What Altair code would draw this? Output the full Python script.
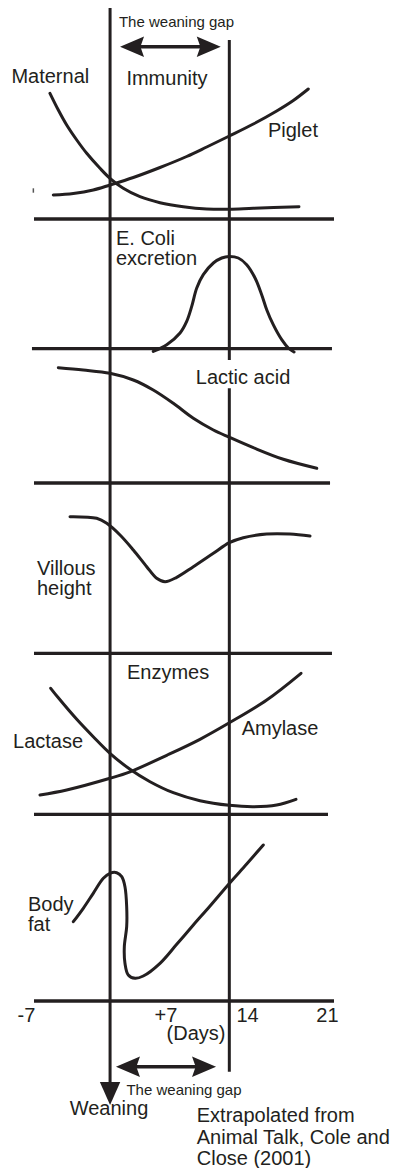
import altair as alt
import pandas as pd

# ------------------------------------------------------------------
# Data.
# x = days relative to weaning, level = height of a curve above the
# baseline of its own panel (arbitrary response units)
# ------------------------------------------------------------------
maternal_days = [-5.51, -4.73, -3.95, -3.01, -2.08, -0.84, 0.09, 1.33, 2.89, 4.76, 6.93, 9.12, 11.23, 13.47, 17.73]
maternal_level = [125.7, 109, 94, 79, 65.7, 50.7, 40.7, 30.7, 22.3, 16.3, 12.3, 10, 9.7, 10.7, 12.3]

piglet_days = [-5.2, -3.33, -1.47, 0.09, 2.27, 4.76, 7.25, 9.12, 11.23, 13.47, 15.65, 17.2, 18.6]
piglet_level = [24, 25.5, 29, 34, 41.5, 51.5, 62.5, 72, 83, 95, 108, 118.5, 130]

ecoli_days = [4.13, 5.39, 6.63, 7.25, 7.72, 8.19, 8.80, 9.74, 10.52, 11.2, 12.07, 12.85, 13.63, 14.25, 14.72, 15.33, 16.12, 16.74, 17.27]
ecoli_level = [-2.7, 4, 15.7, 27.3, 42.3, 60.7, 74, 85.7, 90.7, 92.3, 90.7, 84, 70.7, 54, 39, 24, 9, 0.7, -3.3]

lactic_days = [-4.73, -2.40, 0.09, 2.27, 4.13, 6.0, 7.87, 9.74, 11.23, 13.47, 16.27, 19.39]
lactic_level = [115.3, 113, 109.7, 103, 93, 79.7, 64.7, 53, 45.7, 35.3, 23.7, 14.7]

villous_days = [-3.64, -1.15, -0.21, 1.03, 2.27, 3.52, 4.45, 5.23, 6.32, 7.87, 9.74, 11.23, 12.53, 14.72, 16.89, 18.76]
villous_level = [136.6, 135, 130, 118.3, 103.3, 86.6, 75, 71.6, 76, 86.6, 100, 110.6, 115.6, 119.3, 119.3, 117.3]

lactase_days = [-5.44, -4.73, -3.01, -1.47, 0.09, 1.96, 3.83, 6.0, 8.49, 11.23, 13.47, 15.65, 17.45]
lactase_level = [126, 116.5, 95, 77.6, 61, 45, 32.6, 21.6, 13.6, 9, 7.6, 9.3, 15]

amylase_days = [-6.44, -3.95, 0.09, 1.96, 5.39, 8.49, 11.23, 14.72, 17.92]
amylase_level = [19.3, 24.3, 36, 42.5, 59, 75, 91.5, 114.3, 141]

bodyfat_days = [-3.33, -2.40, -1.47, -0.53, 0.09, 0.72, 1.19, 1.49, 1.65, 1.65, 1.43, 1.49, 1.80, 2.43,
                3.20, 4.76, 6.32, 7.87, 9.43, 11.29, 12.85, 14.40]
bodyfat_level = [79.3, 92.7, 107.7, 122.7, 127.7, 128.3, 124.3, 114.3, 94.3, 74.3, 54.3, 37.7, 26, 22.7,
                 25, 37.7, 56.7, 76, 95, 118.3, 137, 156]

tick_labels = ["-7", "+7", "14", "21"]

weaning_day = 0.1        # weaning
gap_end_day = 11.23      # end of the weaning gap

# ------------------------------------------------------------------
# Layout (vertical figure units, 0 = bottom of the figure)
# ------------------------------------------------------------------
INK = "#231f20"
FONT = "Liberation Sans, Arial, Helvetica, sans-serif"

panel_base = {"immunity": 949, "ecoli": 819.3, "lactic": 685,
              "villous": 514.7, "enzymes": 353.7, "bodyfat": 167}
panel_span = {"immunity": (-7, 21), "ecoli": (-7.19, 20.81), "lactic": (-7, 20.63),
              "villous": (-7, 20.81), "enzymes": (-7, 20.44), "bodyfat": (-7, 21)}

curves = [
    ("Maternal", "immunity", maternal_days, maternal_level),
    ("Piglet", "immunity", piglet_days, piglet_level),
    ("E. coli", "ecoli", ecoli_days, ecoli_level),
    ("Lactic acid", "lactic", lactic_days, lactic_level),
    ("Villous height", "villous", villous_days, villous_level),
    ("Lactase", "enzymes", lactase_days, lactase_level),
    ("Amylase", "enzymes", amylase_days, amylase_level),
    ("Body fat", "bodyfat", bodyfat_days, bodyfat_level),
]

rows = []
for name, panel, days, levels in curves:
    for i, (d, lv) in enumerate(zip(days, levels)):
        rows.append({"curve": name, "order": i, "day": d, "v": panel_base[panel] + lv})
curve_df = pd.DataFrame(rows)

base_df = pd.DataFrame([
    {"d1": panel_span[p][0], "d2": panel_span[p][1], "v": panel_base[p]} for p in panel_base
])

vert_df = pd.DataFrame([
    {"day": weaning_day, "v1": 1160.7, "v2": 70},
    {"day": gap_end_day, "v1": 1128, "v2": 808},
    {"day": gap_end_day, "v1": 779.7, "v2": 96.3},
])
tiny_df = pd.DataFrame([{"day": -7.06, "v1": 979.7, "v2": 975.3}])

arrow_df = pd.DataFrame([
    {"left": 1.03, "right": 10.43, "v": 1121.3},
    {"left": 0.65, "right": 9.99, "v": 101.3},
])
arrow_df["s1"] = arrow_df["left"] + 1.0
arrow_df["s2"] = arrow_df["right"] - 1.0
down_df = pd.DataFrame([{"day": weaning_day, "v": 63}])

center_labels = pd.DataFrame([
    {"t": "Maternal", "day": -5.48, "v": 1084.7},
    {"t": "Immunity", "day": 5.41, "v": 1083},
    {"t": "Piglet", "day": 17.17, "v": 1031},
    {"t": "Lactic acid", "day": 12.51, "v": 784},
    {"t": "Enzymes", "day": 5.51, "v": 489},
    {"t": "Lactase", "day": -5.69, "v": 420},
    {"t": "Amylase", "day": 15.96, "v": 433},
    {"t": "(Days)", "day": 8.12, "v": 128},
    {"t": "Weaning", "day": 0.0, "v": 53},
])
left_labels = pd.DataFrame([
    {"t": "E. Coli", "day": 0.65, "v": 923},
    {"t": "excretion", "day": 0.65, "v": 903},
    {"t": "Villous", "day": -6.72, "v": 593},
    {"t": "height", "day": -6.72, "v": 573},
    {"t": "Body", "day": -7.56, "v": 257},
    {"t": "fat", "day": -7.56, "v": 237},
    {"t": "Extrapolated from", "day": 8.19, "v": 45.7},
    {"t": "Animal Talk, Cole and", "day": 8.19, "v": 23.7},
    {"t": "Close (2001)", "day": 8.19, "v": 3},
])
tick_df = pd.DataFrame({"t": tick_labels, "day": [-7.70, 5.32, 12.93, 20.39], "v": [146.5] * 4})
small_labels = pd.DataFrame([
    {"t": "The weaning gap", "day": 6.30, "v": 1140.7},
    {"t": "The weaning gap", "day": 7.0, "v": 73},
])

# ------------------------------------------------------------------
xs = alt.Scale(domain=[-9.4267, 26.693], nice=False, zero=False)
ys = alt.Scale(domain=[0, 1160], nice=False, zero=False)


def X(f):
    return alt.X(f, type="quantitative", scale=xs, axis=None)


def Y(f):
    return alt.Y(f, type="quantitative", scale=ys, axis=None)


lines = alt.Chart(curve_df).mark_line(
    color=INK, strokeWidth=3, interpolate="catmull-rom", strokeCap="round", strokeJoin="round"
).encode(x=X("day"), y=Y("v"), detail="curve:N", order="order:Q")

baselines = alt.Chart(base_df).mark_rule(color=INK, strokeWidth=3.3).encode(
    x=X("d1"), x2="d2", y=Y("v"))

verticals = alt.Chart(vert_df).mark_rule(color=INK, strokeWidth=3).encode(
    x=X("day"), y=Y("v1"), y2="v2")

tiny = alt.Chart(tiny_df).mark_rule(color="#555555", strokeWidth=1.5).encode(
    x=X("day"), y=Y("v1"), y2="v2")

shafts = alt.Chart(arrow_df).mark_rule(color=INK, strokeWidth=3.5).encode(
    x=X("s1"), x2="s2", y=Y("v"))

RIGHT_HEAD = "M0,0 L-2,-0.85 L-1.7,0 L-2,0.85 Z"
LEFT_HEAD = "M0,0 L2,-0.85 L1.7,0 L2,0.85 Z"
DOWN_HEAD = "M0,0 L-0.85,-1.92 L0.85,-1.92 Z"

heads_r = alt.Chart(arrow_df).mark_point(
    shape=RIGHT_HEAD, filled=True, size=576, color=INK, opacity=1, strokeWidth=0
).encode(x=X("right"), y=Y("v"))
heads_l = alt.Chart(arrow_df).mark_point(
    shape=LEFT_HEAD, filled=True, size=576, color=INK, opacity=1, strokeWidth=0
).encode(x=X("left"), y=Y("v"))
head_d = alt.Chart(down_df).mark_point(
    shape=DOWN_HEAD, filled=True, size=576, color=INK, opacity=1, strokeWidth=0
).encode(x=X("day"), y=Y("v"))

txt_c = alt.Chart(center_labels).mark_text(
    font=FONT, fontSize=20, color=INK, align="center", baseline="alphabetic"
).encode(x=X("day"), y=Y("v"), text="t:N")
txt_l = alt.Chart(left_labels).mark_text(
    font=FONT, fontSize=20, color=INK, align="left", baseline="alphabetic"
).encode(x=X("day"), y=Y("v"), text="t:N")
txt_t = alt.Chart(tick_df).mark_text(
    font=FONT, fontSize=20, color=INK, align="center", baseline="alphabetic"
).encode(x=X("day"), y=Y("v"), text="t:N")
txt_s = alt.Chart(small_labels).mark_text(
    font=FONT, fontSize=15, color=INK, align="center", baseline="alphabetic"
).encode(x=X("day"), y=Y("v"), text="t:N")

chart = alt.layer(
    baselines, verticals, tiny, lines, shafts, heads_r, heads_l, head_d,
    txt_c, txt_l, txt_t, txt_s
).properties(
    width=387, height=1160, padding=0,
    autosize=alt.AutoSizeParams(type="none"),
    background="white",
).configure_view(stroke=None)

chart.save("out.html", embed_options={"renderer": "svg", "actions": False})
